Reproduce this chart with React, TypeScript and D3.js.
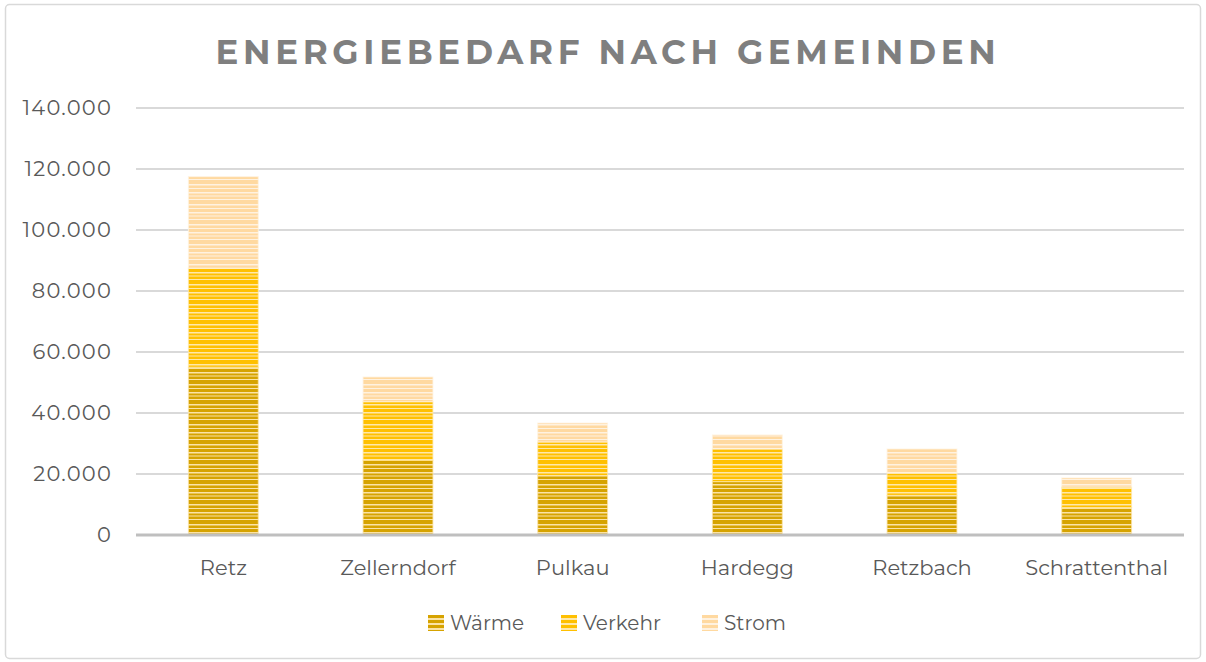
import React from "react";
import * as d3 from "d3";

const categories = ["Retz", "Zellerndorf", "Pulkau", "Hardegg", "Retzbach", "Schrattenthal"];
const seriesNames = ["Wärme", "Verkehr", "Strom"];
const waerme = [55000, 24500, 19500, 17500, 13000, 9000];
const verkehr = [32500, 19200, 11000, 10700, 7300, 6700];
const strom = [30000, 8100, 6200, 4600, 7900, 3000];
const yTicks = [0, 20000, 40000, 60000, 80000, 100000, 120000, 140000];

const W = 1206, H = 662;
const margin = { left: 136, right: 22, top: 108, bottom: 127 };

const patterns = [
  { id: "pW", light: "#FBE3A6", dark: "#D6A300" },
  { id: "pV", light: "#FFE8AA", dark: "#FFC000" },
  { id: "pS", light: "#FFF2E0", dark: "#FFD9A0" },
];
// stripe rows (y offset, height) within 20px tile
const stripes = [[0, 4], [5.5, 2.5], [9, 3], [13.5, 2], [16.5, 2.5]];

export default function App() {
  const x = d3.scaleBand().domain(categories).range([margin.left, W - margin.right]).paddingInner(0.6).paddingOuter(0.3);
  const y = d3.scaleLinear().domain([0, 140000]).range([H - margin.bottom, margin.top]);
  const data = categories.map((c, i) => ({ cat: c, "Wärme": waerme[i], Verkehr: verkehr[i], Strom: strom[i] }));
  const stack = d3.stack<any>().keys(seriesNames)(data);
  const fmt = (v: number) => (v === 0 ? "0" : d3.format(",")(v).replace(/,/g, "."));
  const font = "Montserrat, 'Open Sans', Lato, sans-serif";
  const legendX = [428, 561, 702];

  return (
    <svg width={W} height={H} style={{ position: "absolute", left: 0, top: 0 }}>
      <defs>
        {patterns.map((p) => (
          <pattern key={p.id} id={p.id} width={20} height={20} patternUnits="userSpaceOnUse">
            <rect width={20} height={20} fill={p.light} />
            {stripes.map((s, k) => (
              <rect key={k} x={0} y={s[0]} width={20} height={s[1]} fill={p.dark} />
            ))}
          </pattern>
        ))}
        {patterns.map((p) => (
          <pattern key={p.id + "L"} id={p.id + "L"} width={16} height={5} patternUnits="userSpaceOnUse">
            <rect width={16} height={5} fill={p.light} />
            <rect y={0} width={16} height={3} fill={p.dark} />
          </pattern>
        ))}
      </defs>
      <rect x={0} y={0} width={W} height={H} fill="#fff" />
      <rect x={5.5} y={4.5} width={1195} height={654} rx={4} fill="#fff" stroke="#D9D9D9" strokeWidth={1.5} />
      <text x={608} y={64} textAnchor="middle" fontFamily={font} fontWeight={700} fontSize={34} letterSpacing={4.7} fill="#7F7F7F">
        ENERGIEBEDARF NACH GEMEINDEN
      </text>
      {yTicks.map((t) => (
        <g key={t}>
          {t !== 0 && <line x1={margin.left} x2={W - margin.right} y1={y(t)} y2={y(t)} stroke="#D9D9D9" strokeWidth={2} />}
          <text x={112} y={y(t)} dy="0.35em" textAnchor="end" fontFamily={font} fontSize={21} letterSpacing={1.2} fill="#595959">
            {fmt(t)}
          </text>
        </g>
      ))}
      {stack.map((layer, li) => (
        <g key={layer.key} fill={`url(#${patterns[li].id})`}>
          {layer.map((d, i) => (
            <rect key={i} x={x(categories[i])} width={x.bandwidth()} y={y(d[1])} height={y(d[0]) - y(d[1])} stroke={patterns[li].light} strokeWidth={1} strokeOpacity={0.8} />
          ))}
        </g>
      ))}
      <line x1={margin.left} x2={W - margin.right} y1={y(0)} y2={y(0)} stroke="#BFBFBF" strokeWidth={3} />
      {categories.map((c) => (
        <text key={c} x={(x(c) as number) + x.bandwidth() / 2} y={575} textAnchor="middle" fontFamily={font} fontSize={21} fill="#595959">
          {c}
        </text>
      ))}
      {seriesNames.map((s, i) => (
        <g key={s}>
          <rect x={legendX[i]} y={615} width={16} height={16} fill={`url(#${patterns[i].id}L)`} />
          <text x={legendX[i] + 22} y={623} dy="0.35em" fontFamily={font} fontSize={20} fill="#595959">
            {s}
          </text>
        </g>
      ))}
    </svg>
  );
}
